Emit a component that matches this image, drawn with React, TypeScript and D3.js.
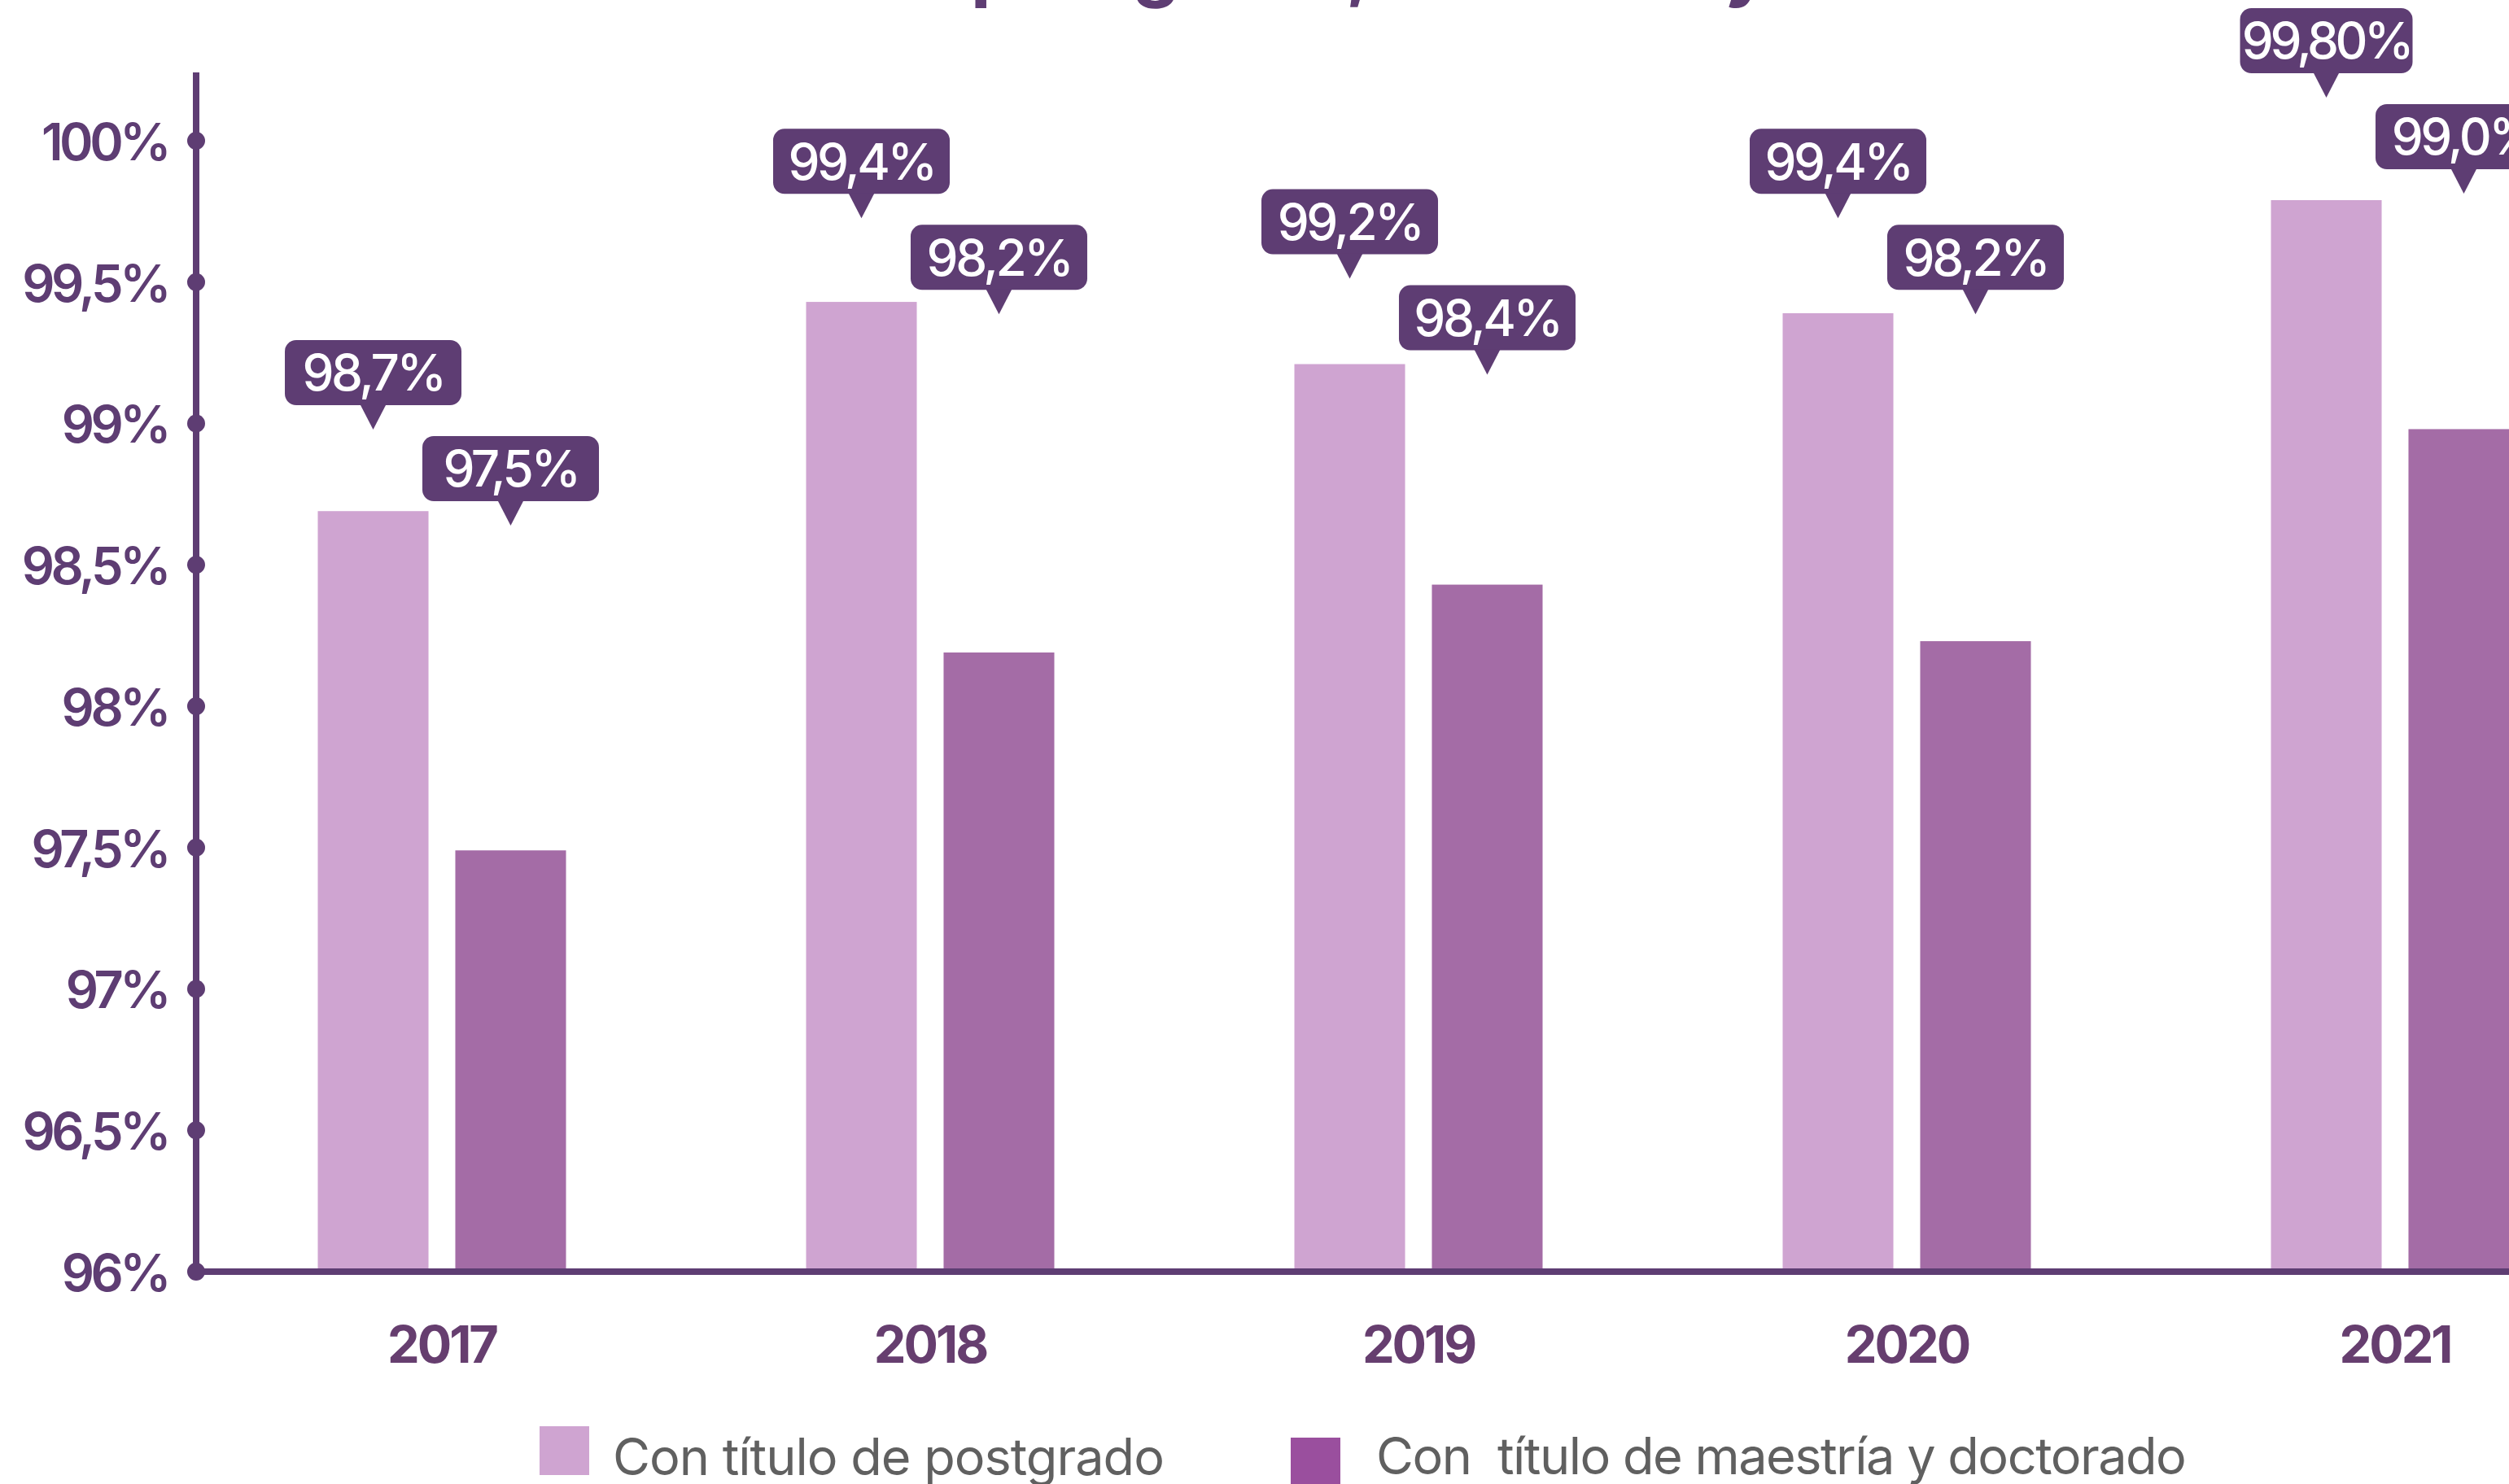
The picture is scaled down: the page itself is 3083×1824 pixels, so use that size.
import React from "react";
import * as d3 from "d3";

const years = ["2017", "2018", "2019", "2020", "2021"];
const postgrado = [98.69, 99.43, 99.21, 99.39, 99.79];
const maestria = [97.49, 98.19, 98.43, 98.23, 98.98];
const postgradoLabels = ["98,7%", "99,4%", "99,2%", "99,4%", "99,80%"];
const maestriaLabels = ["97,5%", "98,2%", "98,4%", "98,2%", "99,0%"];
const postgradoLabelValues = [98.7, 99.4, 99.2, 99.4, 99.8];
const yTicks = [96, 96.5, 97, 97.5, 98, 98.5, 99, 99.5, 100];
const yTickLabels = ["96%", "96,5%", "97%", "97,5%", "98%", "98,5%", "99%", "99,5%", "100%"];
const seriesNames = ["Con título de postgrado", "Con  título de maestría y doctorado"];
const titleText = "Docentes con título de postgrado, maestría y doctorado";

const W = 3083;
const H = 1824;
const PURPLE = "#5E3D73";
const YEAR = "#663E6F";
const LIGHT = "#CFA4D1";
const DARK = "#A46CA6";
const LEGEND_DARK = "#9A4F9E";
const GRAY = "#606060";
const FONT = "Inter, 'Noto Sans', sans-serif";

export default function App() {
  const axisX = 241;
  const y = d3.scaleLinear().domain([96, 100]).range([1563, 173]);
  const x0 = d3.scaleBand().domain(years).range([243, 243 + 3000]).paddingInner(0).paddingOuter(0);
  const x1 = d3.scaleBand().domain(["p", "m"]).range([-152.5, 152.5]).paddingInner(0.195).paddingOuter(0);
  const tipY = d3.scaleLinear().domain([98.7, 99.8]).range([528, 120]);
  const darkOffset = 118;
  const boxH = 80;
  const pointerH = 30;
  const pointerHalf = 16;

  const bubble = (cx: number, tip: number, text: string, key: string) => {
    const w = text.length > 5 ? 212 : 217;
    const bottom = tip - pointerH;
    const top = bottom - boxH;
    return (
      <g key={key}>
        <rect x={cx - w / 2} y={top} width={w} height={boxH} rx={14} fill={PURPLE} />
        <path d={`M${cx - pointerHalf},${bottom - 1}L${cx + pointerHalf},${bottom - 1}L${cx},${tip}Z`} fill={PURPLE} />
        <text x={cx} y={top + boxH / 2} dy="0.36em" textAnchor="middle" fill="#fff" fontFamily={FONT} fontWeight={500} fontSize={62} letterSpacing={text.length > 5 ? -4.5 : -3.5}>
          {text}
        </text>
      </g>
    );
  };

  return (
    <svg width={W} height={H} style={{ position: "absolute", left: 0, top: 0, background: "#fff" }}>
      <text x={1412} y={-9} textAnchor="middle" fill={PURPLE} fontFamily={FONT} fontWeight={700} fontSize={92}>
        {titleText}
      </text>
      {/* bars */}
      {years.map((yr, i) => {
        const c = (x0(yr) as number) + x0.bandwidth() / 2;
        return (
          <g key={yr}>
            <rect x={c + (x1("p") as number)} y={y(postgrado[i])} width={x1.bandwidth()} height={y(96) - y(postgrado[i])} fill={LIGHT} />
            <rect x={c + (x1("m") as number)} y={y(maestria[i])} width={x1.bandwidth()} height={y(96) - y(maestria[i])} fill={DARK} />
          </g>
        );
      })}
      {/* axes */}
      <line x1={axisX} x2={axisX} y1={89} y2={y(96)} stroke={PURPLE} strokeWidth={8} />
      <line x1={axisX} x2={W + 50} y1={y(96)} y2={y(96)} stroke={PURPLE} strokeWidth={8} />
      {yTicks.map((t, i) => (
        <g key={t}>
          <circle cx={axisX} cy={y(t)} r={11} fill={PURPLE} />
          <text x={206} y={y(t)} dy="0.38em" textAnchor="end" fill={PURPLE} fontFamily={FONT} fontWeight={600} fontSize={63} letterSpacing={-4.5}>
            {yTickLabels[i]}
          </text>
        </g>
      ))}
      {years.map((yr) => {
        const c = (x0(yr) as number) + x0.bandwidth() / 2;
        return (
          <text key={yr} x={c} y={1675} textAnchor="middle" fill={YEAR} fontFamily={FONT} fontWeight={700} fontSize={63} letterSpacing={-3}>
            {yr}
          </text>
        );
      })}
      {/* labels */}
      {years.map((yr, i) => {
        const c = (x0(yr) as number) + x0.bandwidth() / 2;
        const cp = c + (x1("p") as number) + x1.bandwidth() / 2;
        const cm = c + (x1("m") as number) + x1.bandwidth() / 2;
        const tp = tipY(postgradoLabelValues[i]);
        return (
          <g key={yr}>
            {bubble(cp, tp, postgradoLabels[i], "p" + yr)}
            {bubble(cm, tp + darkOffset, maestriaLabels[i], "m" + yr)}
          </g>
        );
      })}
      {/* legend */}
      <rect x={663} y={1753} width={61} height={60} fill={LIGHT} />
      <text x={753} y={1813} fill={GRAY} fontFamily={FONT} fontWeight={400} fontSize={63} letterSpacing={-1}>
        {seriesNames[0]}
      </text>
      <rect x={1586} y={1767} width={61} height={60} fill={LEGEND_DARK} />
      <text x={1691} y={1812} fill={GRAY} fontFamily={FONT} fontWeight={400} fontSize={63} letterSpacing={-1.5} style={{ whiteSpace: "pre" }}>
        {seriesNames[1]}
      </text>
    </svg>
  );
}
